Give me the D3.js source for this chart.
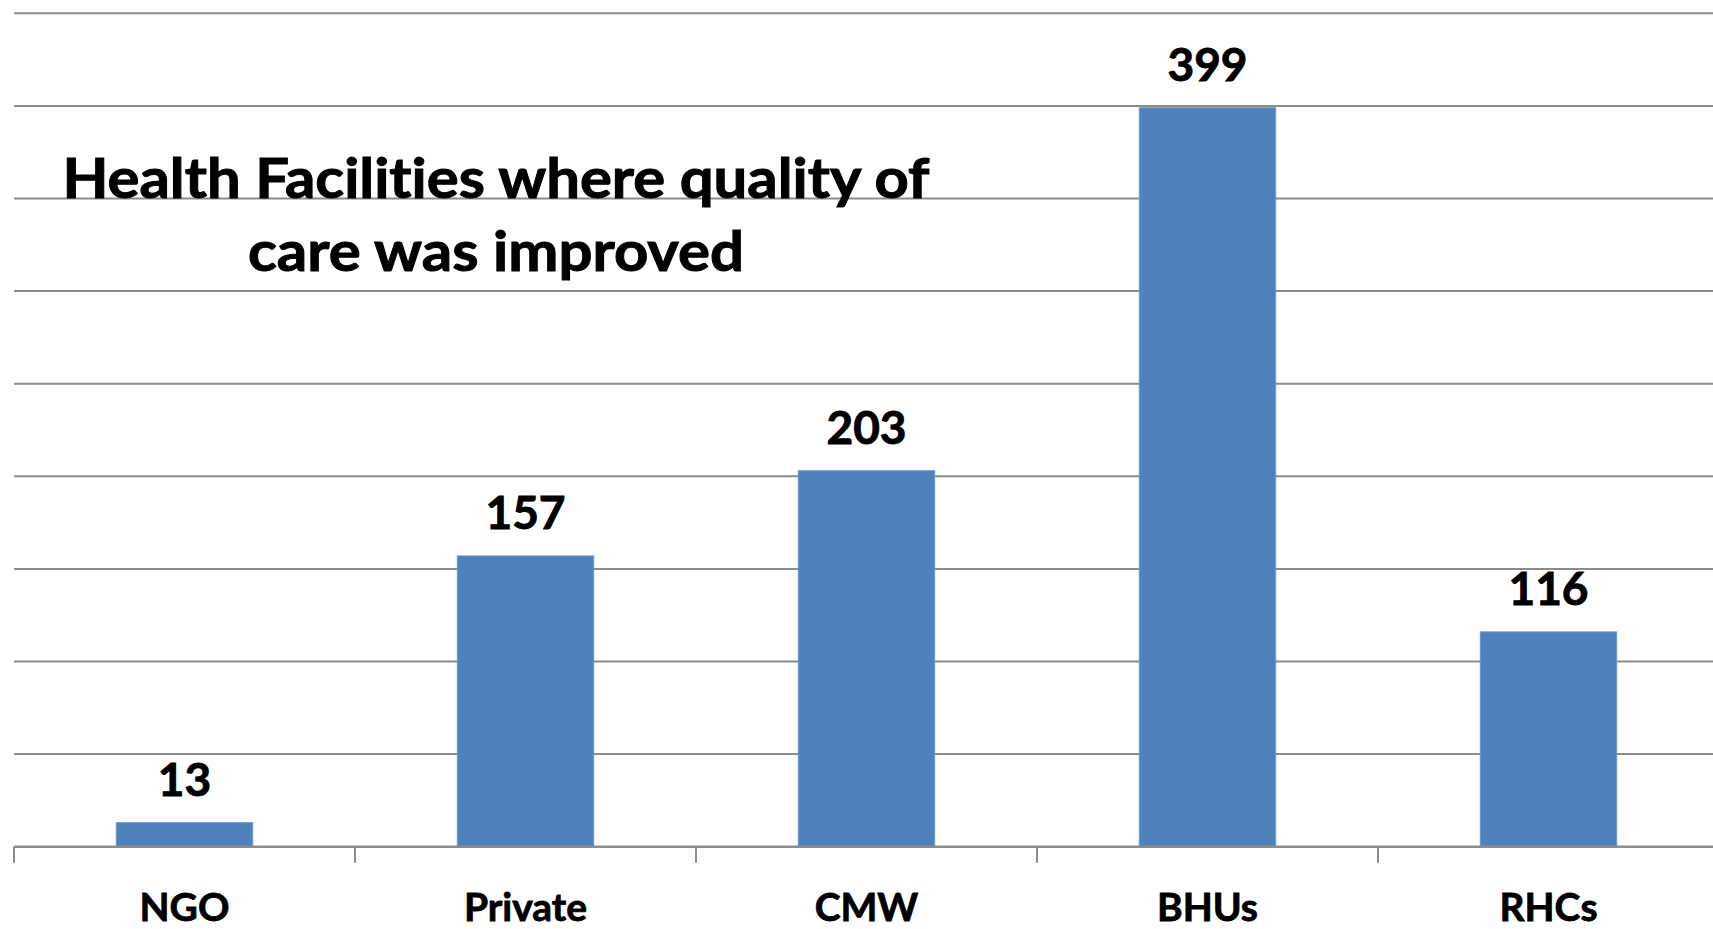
<!DOCTYPE html>
<html>
<head>
<meta charset="utf-8">
<script src="https://cdn.jsdelivr.net/npm/d3@7"></script>
<style>
  html, body { margin: 0; padding: 0; background: #ffffff; overflow: hidden; }
  svg { display: block; }
  text { font-family: Lato, "Open Sans", sans-serif; font-weight: bold; fill: #000;
         font-variant-ligatures: none; font-feature-settings: "liga" 0, "clig" 0; }
</style>
</head>
<body>
<svg id="chart" width="1713" height="929"></svg>
<script>
// ---- Data ----
const categories = ["NGO", "Private", "CMW", "BHUs", "RHCs"];
const values = [13, 157, 203, 399, 116];
const yTicks = [0, 50, 100, 150, 200, 250, 300, 350, 400, 450];
const titleLines = ["Health Facilities where quality of", "care was improved"];

// ---- Layout ----
const plot = { left: 14, right: 1719, top: 13.3, bottom: 846.7 };

const svg = d3.select("#chart");

const x = d3.scaleBand()
  .domain(categories)
  .range([plot.left, plot.right])
  .paddingInner(0.6)
  .paddingOuter(0.3);

const y = d3.scaleLinear()
  .domain([0, 450])
  .range([plot.bottom, plot.top]);

// Gridlines
svg.append("g")
  .selectAll("line")
  .data(yTicks.filter(d => d > 0))
  .join("line")
  .attr("x1", plot.left)
  .attr("x2", plot.right)
  .attr("y1", d => y(d))
  .attr("y2", d => y(d))
  .attr("stroke", "#8c8c8c")
  .attr("stroke-width", 2);

// Bars
svg.append("g")
  .selectAll("rect")
  .data(values)
  .join("rect")
  .attr("x", (d, i) => x(categories[i]))
  .attr("width", x.bandwidth())
  .attr("y", d => y(d))
  .attr("height", d => y(0) - y(d))
  .attr("fill", "#4f81bd")
  .attr("stroke", "#6e96c9")
  .attr("stroke-width", 1);

// X axis baseline + ticks between categories
const step = x.step();
const tickXs = d3.range(categories.length + 1).map(i => plot.left + i * step);
const axis = svg.append("g");
axis.append("line")
  .attr("x1", plot.left).attr("x2", plot.right)
  .attr("y1", y(0)).attr("y2", y(0))
  .attr("stroke", "#8c8c8c").attr("stroke-width", 2.6);
axis.selectAll("line.tick")
  .data(tickXs)
  .join("line")
  .attr("class", "tick")
  .attr("x1", d => d).attr("x2", d => d)
  .attr("y1", y(0)).attr("y2", y(0) + 16)
  .attr("stroke", "#8c8c8c").attr("stroke-width", 2);

// Category labels
svg.append("g")
  .selectAll("text")
  .data(categories)
  .join("text")
  .attr("x", d => x(d) + x.bandwidth() / 2)
  .attr("y", 921)
  .attr("text-anchor", "middle")
  .style("font-size", "39px")
  .attr("stroke", "#000")
  .attr("stroke-width", 0.8)
  .text(d => d);

// Value labels
svg.append("g")
  .selectAll("text")
  .data(values)
  .join("text")
  .attr("x", (d, i) => x(categories[i]) + x.bandwidth() / 2)
  .attr("y", d => y(d) - 26.5)
  .attr("text-anchor", "middle")
  .style("font-size", "46px")
  .attr("stroke", "#000")
  .attr("stroke-width", 0.9)
  .text(d => d);

// Title (overlaid in plot)
const title = svg.append("g");
const titleX = 496;
const titleYs = [198, 271];
const titleWidths = [867, 496];
titleLines.forEach((t, i) => {
  title.append("text")
    .attr("x", titleX)
    .attr("y", titleYs[i])
    .attr("text-anchor", "middle")
    .attr("textLength", titleWidths[i])
    .attr("lengthAdjust", "spacingAndGlyphs")
    .attr("stroke", "#000")
    .attr("stroke-width", 1)
    .style("font-size", "56px")
    .text(t);
});
</script>
</body>
</html>
